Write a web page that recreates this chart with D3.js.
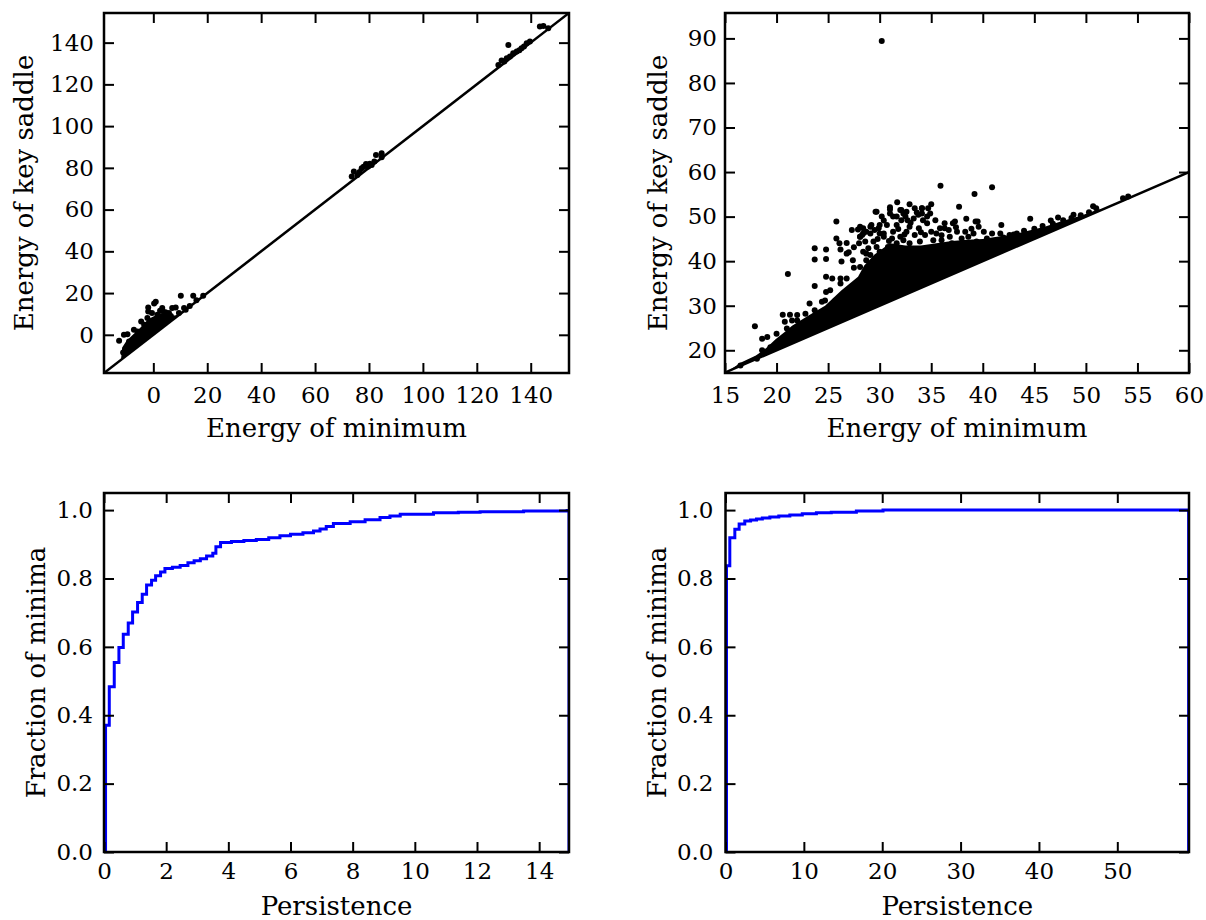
<!DOCTYPE html>
<html lang="en">
<head>
  <meta charset="UTF-8">
  <title>Minima and key saddles</title>
  <script src="https://cdn.jsdelivr.net/npm/d3@7"></script>
  <style>
    body { margin: 0; background: #fff; }
    svg { display: block; }
    text { font-family: 'DejaVu Serif', serif; }
  </style>
</head>
<body>
  <div id="chart"></div>
  <script>
    // ---- data ----
    // top left: (energy of minimum, energy of key saddle)
    const leftPoints = [
      [-12.7, -2.9], [-10.9, 0], [-9.6, 0.3], [-7.2, 2.4], [-4.5, 6.4], [-1.9, 11.2], [-1.9, 13.1],
      [0.9, 15.9], [0.3, 15.0], [3.3, 12.8], [3.4, 11.4], [7.0, 12.8], [8.3, 13.1], [10.2, 18.7],
      [14.8, 18.7], [18.5, 18.7], [11.4, 12.8], [12.0, 12.0], [5.8, 10.4], [-9.0, -3.2], [-5.9, 1.6],
      [-2.2, 8.0], [1.5, 9.6], [-3.4, 4.8], [2.5, 11.5], [4.5, 10.8], [-0.5, 10.5], [9.5, 10.5],
      [13.5, 13.8], [16.0, 16.5], [-11.2, -8.5], [-10.5, -7.0], [6.5, 9.0],
      [74.4, 78.2], [73.6, 75.8], [75.7, 76.6], [77.3, 79.8], [78.9, 81.9], [79.7, 80.6], [81.0, 81.4],
      [82.6, 86.2], [84.7, 87.0], [84.7, 85.1], [78.0, 80.5], [80.3, 82.0], [76.5, 78.0], [82.0, 83.0],
      [131.7, 138.9], [129.2, 131.4], [128.0, 129.3], [131.1, 132.5], [133.5, 134.9], [134.8, 135.7],
      [138.5, 139.7], [139.7, 140.5], [143.4, 147.7], [144.7, 148.0], [146.5, 146.9], [136.6, 137.3],
      [132.3, 133.3], [130.2, 131.0], [135.8, 136.3], [137.5, 138.2]
    ];
    // upper edge of the solid cloud above the diagonal (top left)
    const leftDenseEdge = [
      [-12, -12], [-11.5, -6], [-10, -3], [-8, -0.5], [-6, 2], [-4, 4.5], [-2, 7.5], [0, 8.8],
      [2, 10], [4, 10.5], [6, 9.5], [8, 9.2], [9.5, 9.8]
    ];

    // top right
    const rightPoints = [
      [30.2, 89.4],
      [17.9, 25.4], [21.1, 37.1], [18.6, 22.6], [19.1, 23.0], [18.6, 20.0], [19.4, 20.7], [16.5, 16.6],
      [18.1, 18.1], [20.6, 28.0], [21.3, 28.0], [22.0, 27.9], [22.8, 28.2], [23.7, 29.0], [20.8, 26.4],
      [21.5, 26.7], [22.8, 26.4], [24.7, 31.2], [25.5, 30.5],
      [23.7, 34.4], [23.7, 40.4], [23.7, 42.9], [24.8, 40.5], [24.8, 42.6], [24.8, 36.5], [24.8, 33.1],
      [25.4, 36.1], [25.8, 48.9], [25.8, 45.1], [26.1, 44.0], [26.2, 42.6], [26.3, 39.9], [26.2, 36.1],
      [26.2, 35.0], [26.8, 36.1], [26.8, 44.1], [27.5, 43.1], [27.5, 38.5], [28.0, 44.0], [28.1, 45.5],
      [28.1, 47.7], [27.3, 47.0], [27.9, 47.1], [29.1, 47.7], [29.7, 51.1], [30.4, 49.1], [31.0, 52.1],
      [31.7, 53.2], [32.9, 52.8], [33.4, 51.9],
      [29.6, 51.1], [31.0, 51.6], [31.0, 50.7], [32.3, 50.7], [34.1, 51.9], [34.7, 51.9], [35.0, 52.8],
      [32.1, 49.2], [32.7, 49.2], [33.3, 49.6], [34.1, 50.7], [34.9, 50.7], [34.6, 48.5], [33.8, 47.4],
      [34.4, 45.9], [35.0, 46.6], [32.6, 46.6], [32.0, 45.5], [31.3, 46.6], [30.7, 48.1], [30.0, 48.1],
      [29.9, 47.4], [29.2, 48.1], [28.4, 47.4], [28.3, 45.9], [29.1, 46.2], [30.4, 45.5], [31.2, 45.1],
      [29.4, 44.4], [28.6, 44.4], [30.0, 42.1], [28.4, 42.1], [29.1, 41.4], [32.9, 44.0], [32.0, 42.9],
      [33.6, 42.5], [35.2, 44.7], [36.0, 44.7], [34.7, 42.9], [36.2, 42.9], [37.0, 44.0], [36.3, 48.5],
      [37.1, 48.5], [36.7, 47.0], [37.5, 46.6], [38.3, 46.6], [39.1, 46.2], [40.1, 46.6], [40.4, 45.1],
      [40.9, 46.2], [38.4, 49.5], [39.3, 48.9], [39.6, 47.7], [37.7, 52.2], [39.2, 55.1], [40.9, 56.6],
      [35.9, 56.9], [37.8, 43.6], [38.8, 43.6], [39.7, 43.2], [28.7, 40.2], [34.1, 51.9], [37.3, 48.9],
      [36.3, 47.4], [38.6, 45.5], [41.7, 46.2], [43.3, 46.2], [39.5, 48.9],
      [31.65, 50.0], [32.1, 51.5], [32.6, 51.1], [33.75, 50.4], [34.2, 49.2], [32.9, 47.7], [33.4, 45.9],
      [33.9, 44.4], [32.3, 44.7], [31.65, 44.0], [30.8, 43.2], [29.7, 43.2], [28.9, 42.9], [30.5, 41.0],
      [31.3, 41.7], [32.6, 41.4], [34.2, 41.4], [35.5, 41.7], [36.5, 42.1], [37.5, 42.5], [38.4, 42.9],
      [39.4, 44.4], [40.7, 44.4], [37.95, 45.1], [35.5, 46.2], [35.85, 47.4], [35.4, 49.2], [34.6, 50.0],
      [36.8, 45.5], [28.1, 45.5], [28.7, 46.6], [30.0, 46.2], [31.65, 48.1],
      [26.8, 41.7], [27.4, 40.2], [28.4, 46.2], [28.7, 41.7], [28.1, 38.7], [29.5, 47.0], [30.4, 46.2],
      [31.3, 50.0], [32.0, 51.5], [32.5, 50.0], [25.2, 33.5], [25.7, 31.2], [24.4, 30.9], [23.2, 30.5],
      [22.0, 26.7], [21.0, 24.9], [20.0, 23.7],
      [33.0, 48.6], [31.8, 47.2], [30.9, 44.5], [36.0, 45.8], [37.4, 47.6], [38.9, 47.3], [34.0, 46.5],
      [32.4, 46.0], [29.8, 45.0], [27.0, 42.0], [30.2, 50.0], [33.6, 50.9],
      [41.8, 48.1], [44.6, 49.5], [46.6, 49.1], [47.3, 49.8], [48.8, 50.4], [50.7, 52.3], [51.0, 51.9],
      [53.6, 54.1], [54.1, 54.5], [42.6, 45.9],
      [42.0, 45.3], [43.0, 46.0], [44.0, 46.8], [45.0, 47.3], [45.8, 47.9], [46.8, 48.4], [47.8, 49.2],
      [48.6, 49.7], [49.5, 50.3], [50.3, 51.0]
    ];
    const rightDenseEdge = [
      [15.3, 15.3], [16.5, 17.2], [18, 18.8], [19, 20.5], [19.9, 22.5], [21, 24.5], [21.5, 25.5],
      [23.1, 27.8], [24.7, 30], [26.3, 33.5], [27.9, 36.5], [28.5, 39], [29.5, 41.5], [31, 44],
      [32.5, 43.5], [34, 43.5], [35.5, 44], [37, 44.5], [38.5, 44.8], [40, 45], [41.2, 45.4],
      [42.5, 45.8], [44.4, 46.8], [46, 47.7], [47.7, 49.0], [49.5, 50.2], [50.9, 51.4], [51.5, 51.7]
    ];

    // bottom: cumulative fraction of minima against persistence
    const persistLeft = [0.05, 0.17, 0.33, 0.48, 0.62, 0.78, 0.92, 1.08, 1.23, 1.37, 1.53, 1.66, 1.82,
      1.96, 2.2, 2.45, 2.7, 2.9, 3.1, 3.3, 3.5, 3.6, 3.75, 4.1, 4.5, 4.9, 5.3, 5.66, 6.0, 6.4, 6.74,
      6.95, 7.15, 7.38, 7.92, 8.4, 8.88, 9.2, 9.53, 10.6, 11.4, 12.1, 13.5, 14.9, 14.96];
    const fracLeft = [0.371, 0.483, 0.554, 0.598, 0.637, 0.670, 0.702, 0.730, 0.754, 0.781, 0.795,
      0.808, 0.819, 0.829, 0.833, 0.838, 0.846, 0.852, 0.858, 0.866, 0.874, 0.893, 0.905, 0.908,
      0.911, 0.914, 0.919, 0.925, 0.929, 0.934, 0.939, 0.945, 0.952, 0.961, 0.966, 0.972, 0.978,
      0.983, 0.988, 0.992, 0.994, 0.995, 0.997, 0.999, 1.0];
    const persistRight = [0.13, 0.55, 1.19, 1.74, 2.46, 3.2, 3.96, 4.7, 5.66, 6.8, 8.21, 9.8, 11.6,
      13.5, 16.7, 20.1, 59.1];
    const fracRight = [0.837, 0.919, 0.944, 0.959, 0.968, 0.971, 0.974, 0.977, 0.980, 0.983, 0.986,
      0.989, 0.992, 0.994, 0.997, 1.0, 1.0];

    const xTicksTop = [0, 20, 40, 60, 80, 100, 120, 140];
    const xTicksTopRight = [15, 20, 25, 30, 35, 40, 45, 50, 55, 60];
    const yTicksTopRight = [20, 30, 40, 50, 60, 70, 80, 90];
    const xTicksBottomLeft = [0, 2, 4, 6, 8, 10, 12, 14];
    const xTicksBottomRight = [0, 10, 20, 30, 40, 50];
    const yTicksFraction = [0, 0.2, 0.4, 0.6, 0.8, 1.0];

    // ---- drawing ----
    const FONT = "'DejaVu Serif', serif";
    const svg = d3.select('#chart').append('svg')
      .attr('width', 1206)
      .attr('height', 920);

    let clipCount = 0;
    function makePanel(p) {
      const g = svg.append('g').attr('transform', `translate(${p.left},${p.top})`);
      const x = d3.scaleLinear().domain(p.xDomain).range([0, p.width]);
      const y = d3.scaleLinear().domain(p.yDomain).range([p.height, 0]);
      const id = 'clip' + (clipCount++);
      g.append('clipPath').attr('id', id)
        .append('rect').attr('width', p.width).attr('height', p.height);
      const plot = g.append('g').attr('clip-path', `url(#${id})`);
      return { g, plot, x, y, p };
    }

    function styleAxis(sel) {
      sel.select('.domain').remove();
      sel.selectAll('.tick line').attr('stroke', '#000').attr('stroke-width', 2);
      sel.selectAll('.tick text').attr('fill', '#000').style('font-family', FONT);
      sel.attr('font-size', 23);
    }

    function finishPanel(panel) {
      const { g, x, y, p } = panel;
      const fmt = p.yFormat || d3.format('d');
      g.append('g').attr('transform', `translate(0,${p.height})`)
        .call(d3.axisBottom(x).tickValues(p.xTicks).tickSize(-10).tickPadding(p.xPad).tickFormat(d3.format('d')))
        .call(styleAxis);
      g.append('g')
        .call(d3.axisTop(x).tickValues(p.xTicks).tickSize(-10).tickFormat(''))
        .call(styleAxis);
      g.append('g')
        .call(d3.axisLeft(y).tickValues(p.yTicks).tickSize(-10).tickPadding(p.yPad).tickFormat(fmt))
        .call(styleAxis);
      g.append('g').attr('transform', `translate(${p.width},0)`)
        .call(d3.axisRight(y).tickValues(p.yTicks).tickSize(-10).tickFormat(''))
        .call(styleAxis);

      // frame
      g.append('rect')
        .attr('width', p.width)
        .attr('height', p.height)
        .attr('fill', 'none')
        .attr('stroke', '#000')
        .attr('stroke-width', 2.5);

      g.append('text')
        .attr('x', p.width / 2)
        .attr('y', p.height + p.xLabelGap)
        .attr('text-anchor', 'middle')
        .attr('font-size', 26)
        .style('font-family', FONT)
        .text(p.xLabel);
      g.append('text')
        .attr('transform', `translate(${p.yLabelX},${p.height / 2}) rotate(-90)`)
        .attr('text-anchor', 'middle')
        .attr('font-size', 26)
        .style('font-family', FONT)
        .text(p.yLabel);
    }

    function drawScatter(panel, points, denseEdge, lineEnd) {
      const { plot, x, y } = panel;
      const area = d3.area()
        .x(d => x(d[0]))
        .y0(d => y(d[0]))
        .y1(d => y(d[1]));
      plot.append('path').datum(denseEdge)
        .attr('d', area)
        .attr('fill', '#000');
      plot.selectAll('circle').data(points).enter()
        .append('circle')
        .attr('cx', d => x(d[0]))
        .attr('cy', d => y(d[1]))
        .attr('r', 3)
        .attr('fill', '#000');
      // y = x reference line
      plot.append('line')
        .attr('x1', x(lineEnd[0])).attr('y1', y(lineEnd[0]))
        .attr('x2', x(lineEnd[1])).attr('y2', y(lineEnd[1]))
        .attr('stroke', '#000')
        .attr('stroke-width', 2.5);
    }

    function drawCdf(panel, xs, fs) {
      const { plot, x, y } = panel;
      const pts = [[xs[0], 0]].concat(xs.map((v, i) => [v, fs[i]]));
      pts.push([xs[xs.length - 1], 0]);
      const line = d3.line()
        .x(d => x(d[0]))
        .y(d => y(d[1]))
        .curve(d3.curveStepAfter);
      plot.append('path').datum(pts)
        .attr('d', line)
        .attr('fill', 'none')
        .attr('stroke', '#0000ff')
        .attr('stroke-width', 3);
    }

    // top left
    const tl = makePanel({
      left: 104, top: 13, width: 465, height: 360,
      xDomain: [-18.3, 154.2], yDomain: [-18.3, 154.2],
      xTicks: xTicksTop, yTicks: xTicksTop, xPad: 14, yPad: 10,
      xLabel: 'Energy of minimum', yLabel: 'Energy of key saddle',
      xLabelGap: 64, yLabelX: -71
    });
    drawScatter(tl, leftPoints, leftDenseEdge, [-18.3, 154.2]);
    finishPanel(tl);

    // top right
    const tr = makePanel({
      left: 725, top: 13, width: 464, height: 360,
      xDomain: [15, 60], yDomain: [14.9, 95.7],
      xTicks: xTicksTopRight, yTicks: yTicksTopRight, xPad: 14, yPad: 8,
      xLabel: 'Energy of minimum', yLabel: 'Energy of key saddle',
      xLabelGap: 64, yLabelX: -58
    });
    drawScatter(tr, rightPoints, rightDenseEdge, [15, 60]);
    finishPanel(tr);

    // bottom left
    const bl = makePanel({
      left: 104, top: 493, width: 465, height: 359,
      xDomain: [0, 14.96], yDomain: [0, 1.05],
      xTicks: xTicksBottomLeft, yTicks: yTicksFraction, xPad: 11, yPad: 11,
      yFormat: d3.format('.1f'),
      xLabel: 'Persistence', yLabel: 'Fraction of minima',
      xLabelGap: 63, yLabelX: -59
    });
    drawCdf(bl, persistLeft, fracLeft);
    finishPanel(bl);

    // bottom right
    const br = makePanel({
      left: 725.5, top: 493, width: 463.5, height: 359,
      xDomain: [0, 59.15], yDomain: [0, 1.05],
      xTicks: xTicksBottomRight, yTicks: yTicksFraction, xPad: 11, yPad: 12,
      yFormat: d3.format('.1f'),
      xLabel: 'Persistence', yLabel: 'Fraction of minima',
      xLabelGap: 63, yLabelX: -60
    });
    drawCdf(br, persistRight, fracRight);
    finishPanel(br);
  </script>
</body>
</html>
